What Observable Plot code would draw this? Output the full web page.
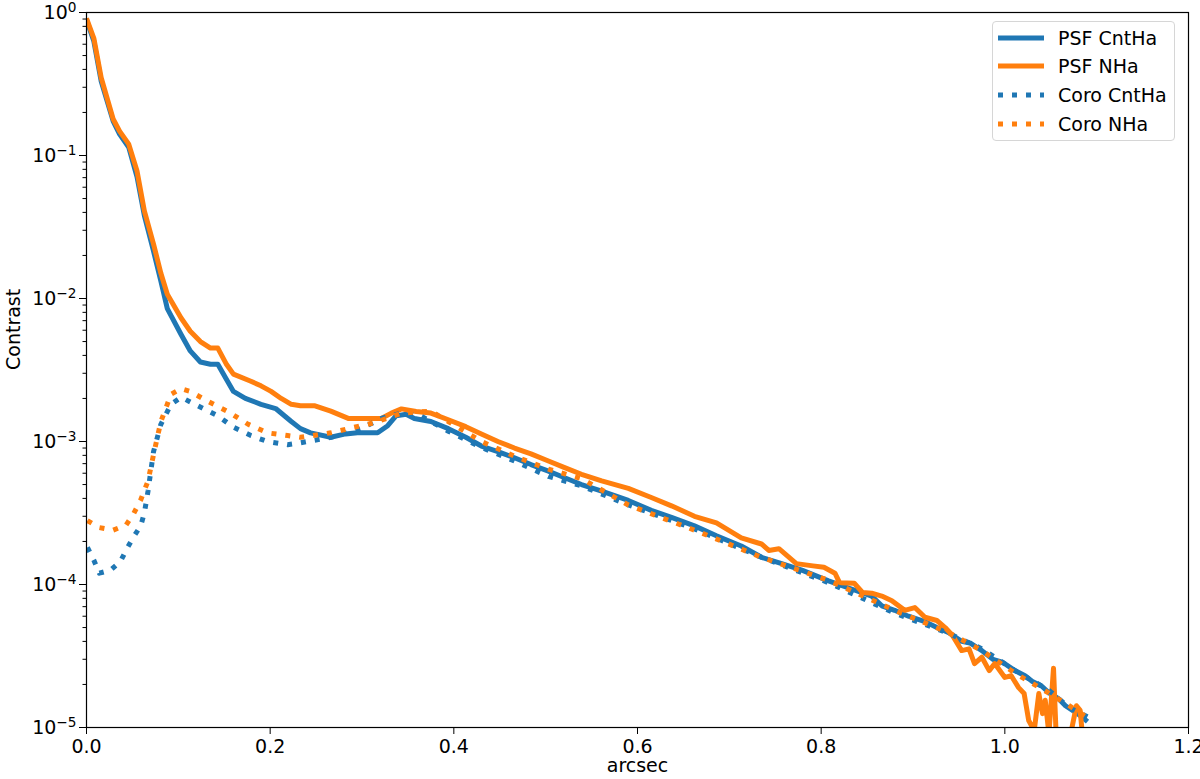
<!DOCTYPE html>
<html>
<head>
<meta charset="utf-8">
<script src="https://cdn.jsdelivr.net/npm/d3@7"></script>
<script src="https://cdn.jsdelivr.net/npm/@observablehq/plot@0.6"></script>
<style>
  html, body { margin: 0; padding: 0; background: #fff; }
  #wrap { position: relative; width: 1200px; height: 779px; font-family: "DejaVu Sans", sans-serif; }
  #legend { position: absolute; left: 992px; top: 21px; width: 183px; height: 120px; box-sizing: border-box;
    border: 1px solid #d6d6d6; border-radius: 4px; background: rgba(255,255,255,0.85); }
  .row { position: absolute; left: 0; height: 20px; display: flex; align-items: center; font-size: 19px; color: #000; }
  .row svg { margin-left: 5px; margin-right: 14px; }
</style>
</head>
<body>
<div id="wrap"></div>
<script>
// ---- data (x in arcsec, contrast) ----
const psfCntHa = [
  [0.000,0.89],[0.008,0.63],[0.016,0.33],[0.029,0.174],[0.036,0.141],[0.046,0.114],[0.055,0.071],
  [0.063,0.038],[0.073,0.0214],[0.081,0.0132],[0.088,8.5e-3],[0.103,5.6e-3],[0.113,4.3e-3],
  [0.124,3.6e-3],[0.135,3.47e-3],[0.143,3.47e-3],[0.152,2.75e-3],[0.160,2.24e-3],[0.173,2.0e-3],
  [0.190,1.82e-3],[0.206,1.70e-3],[0.223,1.38e-3],[0.233,1.23e-3],[0.244,1.15e-3],[0.266,1.07e-3],
  [0.282,1.13e-3],[0.295,1.15e-3],[0.317,1.15e-3],[0.328,1.29e-3],[0.337,1.51e-3],[0.348,1.55e-3],
  [0.357,1.45e-3],[0.375,1.38e-3],[0.394,1.23e-3],[0.413,1.07e-3],[0.430,9.3e-4],[0.448,8.5e-4],
  [0.466,7.7e-4],[0.484,6.9e-4],[0.503,6.2e-4],[0.520,5.6e-4],[0.539,5.0e-4],[0.561,4.5e-4],
  [0.590,3.87e-4],[0.615,3.3e-4],[0.637,2.95e-4],[0.662,2.57e-4],[0.686,2.19e-4],[0.713,1.86e-4],
  [0.735,1.55e-4],[0.757,1.40e-4],[0.779,1.26e-4],[0.808,1.06e-4],[0.833,9.3e-5],[0.855,8.3e-5],
  [0.866,7.1e-5],[0.880,6.6e-5],[0.895,6.0e-5],[0.913,5.5e-5],[0.926,5.0e-5],[0.939,4.6e-5],
  [0.953,4.0e-5],[0.962,3.9e-5],[0.975,3.45e-5],[0.987,3.0e-5],[0.998,2.85e-5],[1.011,2.5e-5],
  [1.022,2.3e-5],[1.030,2.1e-5],[1.040,1.95e-5],[1.048,1.75e-5],[1.058,1.6e-5],[1.066,1.42e-5],
  [1.075,1.3e-5],[1.083,1.2e-5],[1.090,1.1e-5]
];
const psfNHa = [
  [0.000,0.91],[0.008,0.66],[0.016,0.35],[0.029,0.18],[0.036,0.148],[0.046,0.120],[0.055,0.078],
  [0.063,0.041],[0.073,0.024],[0.081,0.015],[0.088,0.0107],[0.103,7.3e-3],[0.113,5.9e-3],
  [0.124,5.0e-3],[0.135,4.5e-3],[0.143,4.5e-3],[0.152,3.5e-3],[0.160,2.96e-3],[0.179,2.64e-3],
  [0.190,2.45e-3],[0.201,2.24e-3],[0.212,2.0e-3],[0.223,1.82e-3],[0.233,1.78e-3],[0.248,1.78e-3],
  [0.266,1.63e-3],[0.285,1.45e-3],[0.304,1.45e-3],[0.321,1.45e-3],[0.332,1.58e-3],[0.343,1.69e-3],
  [0.359,1.62e-3],[0.375,1.58e-3],[0.394,1.42e-3],[0.413,1.27e-3],[0.430,1.13e-3],[0.448,1.0e-3],
  [0.466,9.0e-4],[0.484,8.2e-4],[0.503,7.3e-4],[0.520,6.6e-4],[0.539,5.9e-4],[0.561,5.3e-4],
  [0.590,4.7e-4],[0.615,4.06e-4],[0.637,3.55e-4],[0.662,3.0e-4],[0.686,2.7e-4],[0.713,2.12e-4],
  [0.735,1.92e-4],[0.743,1.73e-4],[0.754,1.78e-4],[0.773,1.40e-4],[0.791,1.35e-4],[0.803,1.32e-4],
  [0.815,1.20e-4],[0.820,1.03e-4],[0.836,1.02e-4],[0.845,8.8e-5],[0.855,8.7e-5],[0.866,8.3e-5],
  [0.877,7.7e-5],[0.891,6.6e-5],[0.902,6.9e-5],[0.913,5.9e-5],[0.926,5.6e-5],[0.935,5.0e-5],
  [0.943,4.4e-5],[0.953,3.45e-5],[0.961,3.55e-5],[0.967,2.8e-5],[0.975,3.1e-5],[0.983,2.5e-5],
  [0.989,2.8e-5],[1.000,2.24e-5],[1.007,2.3e-5],[1.015,1.9e-5],[1.021,1.73e-5],[1.026,1.12e-5],
  [1.032,9.5e-6],[1.037,1.73e-5],[1.041,1.25e-5],[1.044,1.55e-5],[1.048,9.0e-6],[1.053,2.6e-5],
  [1.056,8.5e-6],[1.061,7.0e-6],[1.070,8.0e-6],[1.078,1.42e-5],[1.082,1.32e-5],[1.086,7.0e-6]
];
const coroCntHa = [
  [0.001,1.82e-4],[0.008,1.48e-4],[0.014,1.20e-4],[0.026,1.26e-4],[0.037,1.45e-4],[0.044,1.78e-4],
  [0.051,2.14e-4],[0.059,2.57e-4],[0.063,3.16e-4],[0.067,4.5e-4],[0.073,8.5e-4],[0.081,1.32e-3],
  [0.092,1.82e-3],[0.103,2.04e-3],[0.121,1.78e-3],[0.143,1.51e-3],[0.160,1.26e-3],[0.179,1.10e-3],
  [0.197,1.0e-3],[0.219,9.5e-4],[0.233,9.8e-4],[0.266,1.07e-3],[0.299,1.23e-3],[0.321,1.45e-3],
  [0.343,1.58e-3],[0.364,1.51e-3],[0.394,1.18e-3],[0.430,9.1e-4],[0.466,7.3e-4],[0.503,5.7e-4],
  [0.539,4.9e-4],[0.590,3.6e-4],[0.662,2.45e-4],[0.735,1.55e-4],[0.808,1.03e-4],[0.880,6.3e-5],
  [0.939,4.55e-5],[0.975,3.55e-5],[1.011,2.5e-5],[1.048,1.82e-5],[1.070,1.38e-5],[1.092,1.17e-5]
];
const coroNHa = [
  [0.001,2.8e-4],[0.014,2.5e-4],[0.029,2.4e-4],[0.043,2.6e-4],[0.051,3.1e-4],[0.059,3.9e-4],
  [0.067,5.3e-4],[0.073,8.1e-4],[0.081,1.38e-3],[0.092,2.14e-3],[0.103,2.34e-3],[0.113,2.24e-3],
  [0.132,1.91e-3],[0.154,1.62e-3],[0.176,1.32e-3],[0.197,1.15e-3],[0.219,1.10e-3],[0.233,1.07e-3],
  [0.266,1.15e-3],[0.299,1.29e-3],[0.313,1.35e-3],[0.343,1.58e-3],[0.375,1.63e-3],[0.394,1.38e-3],
  [0.430,1.0e-3],[0.466,7.9e-4],[0.503,6.4e-4],[0.539,5.5e-4],[0.590,3.6e-4],[0.662,2.4e-4],
  [0.735,1.55e-4],[0.808,1.07e-4],[0.880,6.6e-5],[0.939,4.6e-5],[0.975,3.45e-5],[1.011,2.4e-5],
  [1.048,1.74e-5],[1.070,1.42e-5],[1.092,1.15e-5]
];
const seriesNames = ["PSF CntHa", "PSF NHa", "Coro CntHa", "Coro NHa"];
const seriesColors = ["#1f77b4", "#ff7f0e", "#1f77b4", "#ff7f0e"];
const seriesDotted = [false, false, true, true];
const xTicks = [0, 0.2, 0.4, 0.6, 0.8, 1.0, 1.2];
const yMajor = [1e-5, 1e-4, 1e-3, 1e-2, 1e-1, 1];
const yMinor = [];
for (const d of [1e-5, 1e-4, 1e-3, 1e-2, 1e-1]) for (let k = 2; k <= 9; k++) yMinor.push(d * k);

const allSeries = [psfCntHa, psfNHa, coroCntHa, coroNHa];
const DASH = "5,9";

const lineMarks = allSeries.map((s, i) => Plot.line(s, {
  x: d => d[0], y: d => d[1], stroke: seriesColors[i], strokeWidth: 5,
  strokeDasharray: seriesDotted[i] ? DASH : null, strokeLinejoin: "round",
  strokeLinecap: "butt", clip: true
}));

const chart = Plot.plot({
  width: 1200, height: 779,
  marginLeft: 86, marginRight: 12, marginTop: 12, marginBottom: 52,
  style: { fontFamily: "DejaVu Sans, sans-serif", fontSize: "19px", background: "#fff", color: "#000", overflow: "visible" },
  x: { domain: [0, 1.2] },
  y: { type: "log", domain: [1e-5, 1] },
  marks: [
    ...lineMarks,
    Plot.axisX({ ticks: xTicks, tickSize: 7, tickPadding: 5, tickFormat: d => d.toFixed(1), label: null, fontSize: 19 }),
    Plot.axisY({ ticks: yMajor, tickSize: 7, tickPadding: 3, tickFormat: d => "10^" + Math.round(Math.log10(d)), label: null, fontSize: 19 }),
    Plot.axisY({ ticks: yMinor, tickSize: 3.5, tickFormat: () => "", label: null }),
    Plot.frame({ stroke: "#000", strokeWidth: 1.2 }),
    Plot.text(["arcsec"], { frameAnchor: "bottom", dy: 44, text: d => d, fontSize: 19 }),
    Plot.text(["Contrast"], { frameAnchor: "left", dx: -73, rotate: -90, text: d => d, fontSize: 19 })
  ]
});

// superscript exponents on y tick labels
const NS = "http://www.w3.org/2000/svg";
chart.querySelectorAll('g[aria-label="y-axis tick label"] text').forEach(t => {
  const s = t.textContent;
  if (s.startsWith("10^")) {
    const e = s.slice(3).replace("-", "\u2212");
    t.textContent = "10";
    const ts = document.createElementNS(NS, "tspan");
    ts.setAttribute("dy", "-0.45em");
    ts.setAttribute("font-size", "0.72em");
    ts.textContent = e;
    t.appendChild(ts);
  }
});

const wrap = document.getElementById("wrap");
wrap.appendChild(chart);

// legend
const legend = document.createElement("div");
legend.id = "legend";
const rowTops = [6, 34, 63, 92];
seriesNames.forEach((name, i) => {
  const row = document.createElement("div");
  row.className = "row";
  row.style.top = rowTops[i] + "px";
  row.innerHTML = `<svg width="46" height="10"><line x1="0" y1="5" x2="46" y2="5" stroke="${seriesColors[i]}" stroke-width="5" ${seriesDotted[i] ? `stroke-dasharray="${DASH}"` : ""}/></svg><span>${name}</span>`;
  legend.appendChild(row);
});
wrap.appendChild(legend);
</script>
</body>
</html>
